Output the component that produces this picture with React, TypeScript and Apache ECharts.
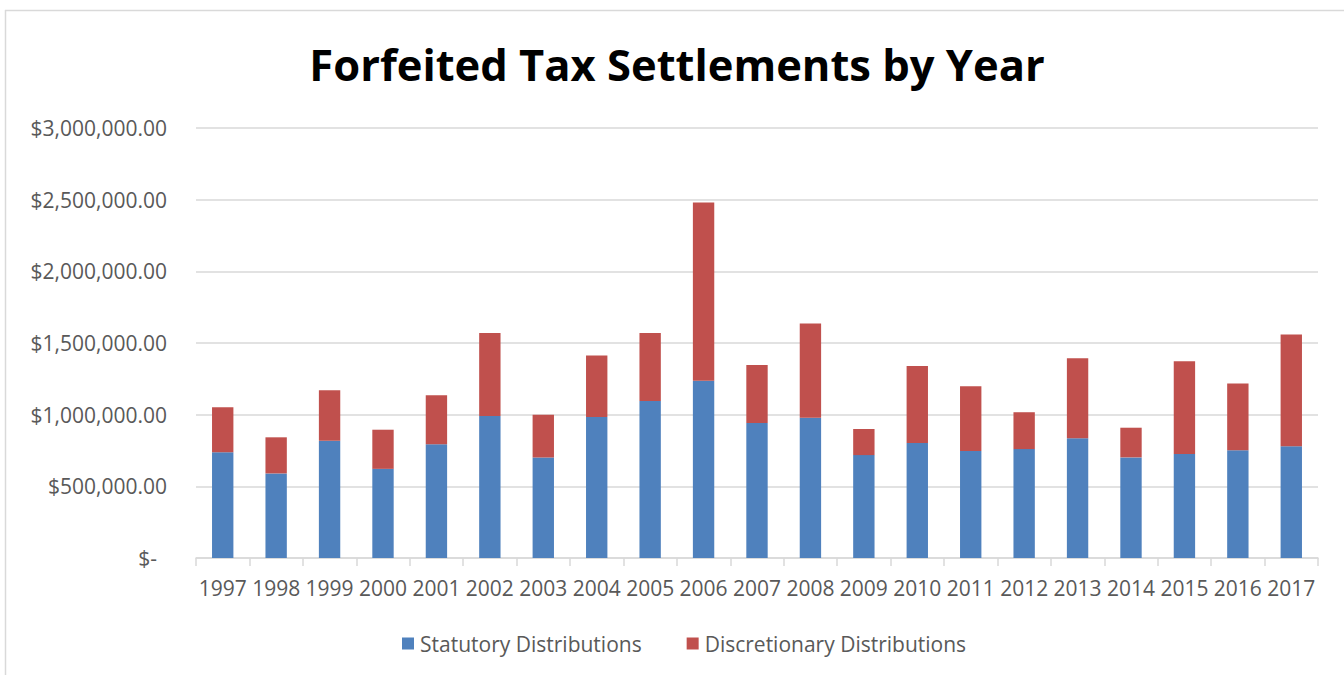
import React, { useEffect, useRef } from "react";
import * as echarts from "echarts";

const years = ["1997","1998","1999","2000","2001","2002","2003","2004","2005","2006","2007","2008","2009","2010","2011","2012","2013","2014","2015","2016","2017"];
const statutory = [737000, 590000, 818000, 622000, 793000, 991000, 702000, 984000, 1096000, 1236000, 942000, 979000, 718000, 802000, 746000, 760000, 835000, 702000, 725000, 751000, 779000];
const discretionary = [315000, 252000, 353000, 273000, 343000, 578000, 298000, 429000, 473000, 1244000, 405000, 657000, 182000, 538000, 453000, 257000, 559000, 207000, 648000, 466000, 780000];
const yTicks = [0, 500000, 1000000, 1500000, 2000000, 2500000, 3000000];
const seriesNames = ["Statutory Distributions", "Discretionary Distributions"];
const titleText = "Forfeited Tax Settlements by Year";

const FONT = "'Open Sans', 'Liberation Sans', sans-serif";
const TXT = "#595959";
const GRID = "#D9D9D9";
const FS = 21;

function fmtMoney(v: number): string {
  if (v === 0) return "{z|$-}";
  const s = Math.round(v).toString().replace(/\B(?=(\d{3})+(?!\d))/g, ",");
  return "$" + s + ".00";
}

export default function App() {
  const ref = useRef<HTMLDivElement>(null);
  useEffect(() => {
    document.body.style.margin = "0";
    if (!ref.current) return;
    const chart = echarts.init(ref.current, undefined, { renderer: "svg" });
    chart.setOption({
      animation: false,
      backgroundColor: "#ffffff",
      textStyle: { fontFamily: FONT },
      graphic: [
        { type: "line", shape: { x1: 5.5, y1: 10, x2: 5.5, y2: 675 }, style: { stroke: GRID, lineWidth: 1.5 } },
        { type: "line", shape: { x1: 5, y1: 10.5, x2: 1344, y2: 10.5 }, style: { stroke: GRID, lineWidth: 1.5 } },
        {
          type: "text",
          x: 677,
          y: 64,
          style: {
            text: titleText,
            fontFamily: FONT,
            fontWeight: "bold",
            fontSize: 43.5,
            fill: "#000000",
            textAlign: "center",
            textVerticalAlign: "middle",
          },
        },
      ],
      legend: {
        data: seriesNames,
        left: 397,
        top: 628,
        icon: "rect",
        itemWidth: 12,
        itemHeight: 12,
        itemGap: 45,
        textStyle: { fontFamily: FONT, fontSize: FS, color: TXT, padding: [0, 0, 0, 1] },
      },
      grid: { left: 196, right: 26, top: 128, bottom: 117, containLabel: false },
      xAxis: {
        type: "category",
        data: years,
        axisLine: { lineStyle: { color: GRID, width: 1.5 } },
        axisTick: { show: true, length: 8, lineStyle: { color: GRID, width: 1.5 } },
        axisLabel: { fontFamily: FONT, fontSize: FS, color: TXT, margin: 19, interval: 0 },
      },
      yAxis: {
        type: "value",
        min: 0,
        max: 3000000,
        interval: 500000,
        axisLine: { show: false },
        axisTick: { show: false },
        splitLine: { lineStyle: { color: GRID, width: 1.5 } },
        axisLabel: {
          fontFamily: FONT,
          fontSize: FS,
          color: TXT,
          margin: 29,
          formatter: (v: number) => fmtMoney(v),
          rich: { z: { fontFamily: FONT, fontSize: FS, color: TXT, padding: [0, 10, 0, 0] } },
        },
      },
      series: [
        {
          name: seriesNames[0],
          type: "bar",
          stack: "total",
          data: statutory,
          barWidth: "40%",
          itemStyle: { color: "#4F81BD" },
        },
        {
          name: seriesNames[1],
          type: "bar",
          stack: "total",
          data: discretionary,
          barWidth: "40%",
          itemStyle: { color: "#C0504D" },
        },
      ],
    });
    return () => chart.dispose();
  }, []);
  return <div ref={ref} style={{ width: 1344, height: 675 }} />;
}
